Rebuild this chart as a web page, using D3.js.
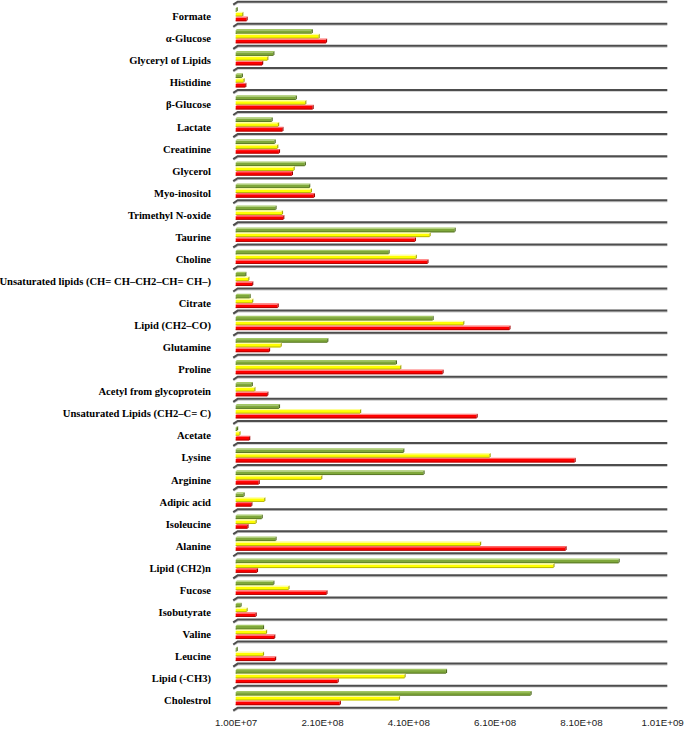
<!DOCTYPE html>
<html>
<head>
<meta charset="utf-8">
<script src="https://cdn.jsdelivr.net/npm/d3@7"></script>
<style>
  html, body { margin: 0; padding: 0; background: #fff; }
  svg { display: block; }
</style>
</head>
<body>
<svg id="chart" width="685" height="730"></svg>
<script>
const categories = ["Formate","α-Glucose","Glyceryl of Lipids","Histidine","β-Glucose","Lactate","Creatinine","Glycerol","Myo-inositol","Trimethyl N-oxide","Taurine","Choline","Unsaturated lipids (CH= CH–CH2–CH= CH–)","Citrate","Lipid (CH2–CO)","Glutamine","Proline","Acetyl from glycoprotein","Unsaturated Lipids (CH2–C= C)","Acetate","Lysine","Arginine","Adipic acid","Isoleucine","Alanine","Lipid (CH2)n","Fucose","Isobutyrate","Valine","Leucine","Lipid (-CH3)","Cholestrol"];

const seriesGreen  = [1.2e7,1.86e8,9.7e7,2.4e7,1.49e8,9.3e7,1.0e8,1.70e8,1.80e8,1.02e8,5.17e8,3.64e8,3.2e7,4.2e7,4.66e8,2.22e8,3.81e8,4.7e7,1.1e8,1.3e7,3.98e8,4.45e8,2.8e7,7.0e7,1.02e8,8.97e8,9.7e7,2.1e7,7.3e7,1.2e7,4.97e8,6.93e8];
const seriesYellow = [2.5e7,2.02e8,8.3e7,2.8e7,1.71e8,1.08e8,1.06e8,1.44e8,1.84e8,1.17e8,4.59e8,4.27e8,3.9e7,4.8e7,5.37e8,1.14e8,3.91e8,5.3e7,2.98e8,1.85e7,5.98e8,2.08e8,7.6e7,5.6e7,5.76e8,7.46e8,1.32e8,3.5e7,8.0e7,7.3e7,4.01e8,3.88e8];
const seriesRed    = [3.5e7,2.19e8,7.1e7,3.2e7,1.88e8,1.18e8,1.1e8,1.40e8,1.91e8,1.2e8,4.25e8,4.54e8,4.8e7,1.07e8,6.44e8,8.7e7,4.89e8,8.3e7,5.68e8,4.1e7,7.95e8,6.3e7,4.6e7,3.7e7,7.74e8,5.9e7,2.20e8,5.6e7,9.9e7,1.01e8,2.46e8,2.51e8];

const tickValues = [1.0e7, 2.1e8, 4.1e8, 6.1e8, 8.1e8, 1.01e9];
const tickLabels = ["1.00E+07","2.10E+08","4.10E+08","6.10E+08","8.10E+08","1.01E+09"];

const seriesNames = ["green","yellow","red"];
const seriesData = [seriesGreen, seriesYellow, seriesRed];
const colors = {
  green:  { front: "#7fa83a", top: "#a3c764", side: "#4f6b1f" },
  yellow: { front: "#ffff00", top: "#ffff99", side: "#a6a600" },
  red:    { front: "#ff0000", top: "#ff6a6a", side: "#a00000" }
};

const svg = d3.select("#chart");
const xLeft = 235.7, xRight = 667.3, yTop = 1.7, yBottom = 707.7;

const x = d3.scaleLinear().domain([1e7, 1.01e9]).range([xLeft, xRight]);
const y = d3.scaleBand().domain(categories).range([yTop, yBottom]).padding(0);
const inner = d3.scaleBand().domain(seriesNames).range([5.2, 19.6]).padding(0.02);

// gridlines (row separators with 3D slant)
const lineYs = categories.map(c => y(c)).concat([yBottom]);
const grid = svg.append("g");
grid.selectAll("path.shadow").data(lineYs).join("path")
  .attr("class", "shadow")
  .attr("d", v => `M${xLeft - 2},${v + 3.8} L${xLeft + 2.5},${v + 1.3} L${xRight},${v + 1.3}`)
  .attr("fill", "none").attr("stroke", "#c8c8c8").attr("stroke-width", 1.2);
grid.selectAll("path.line").data(lineYs).join("path")
  .attr("class", "line")
  .attr("d", v => `M${xLeft - 2.5},${v + 3} L${xLeft + 2},${v} L${xRight},${v}`)
  .attr("fill", "none").attr("stroke", "#4d4d4d").attr("stroke-width", 2);

// bars
const d = 1.2;
const rows = svg.append("g").selectAll("g").data(categories).join("g")
  .attr("transform", c => `translate(0,${y(c)})`);

seriesNames.forEach((s, si) => {
  const vals = seriesData[si];
  const col = colors[s];
  const h = inner.bandwidth();
  const g = rows.append("g");
  g.append("rect")
    .attr("x", x(1e7))
    .attr("y", inner(s) + d)
    .attr("width", (c, i) => Math.max(0.5, x(vals[i]) - x(1e7)))
    .attr("height", h - d)
    .attr("fill", col.front);
  g.append("path")
    .attr("d", (c, i) => {
      const x0 = x(1e7), x1 = Math.max(x0 + 0.5, x(vals[i])), yy = inner(s) + d;
      return `M${x0},${yy} L${x0 + d},${yy - d} L${x1 + d},${yy - d} L${x1},${yy} Z`;
    })
    .attr("fill", col.top);
  g.append("path")
    .attr("d", (c, i) => {
      const x0 = x(1e7), x1 = Math.max(x0 + 0.5, x(vals[i])), yy = inner(s) + d;
      return `M${x1},${yy} L${x1 + d},${yy - d} L${x1 + d},${yy + h - 2 * d} L${x1},${yy + h - d} Z`;
    })
    .attr("fill", col.side);
  g.append("line")
    .attr("x1", x(1e7))
    .attr("x2", (c, i) => Math.max(x(1e7) + 0.5, x(vals[i])))
    .attr("y1", inner(s) + h - 0.4)
    .attr("y2", inner(s) + h - 0.4)
    .attr("stroke", col.side).attr("stroke-width", 0.8);
});

// category labels
svg.append("g").selectAll("text").data(categories).join("text")
  .attr("x", 211)
  .attr("y", c => y(c) + 15)
  .attr("text-anchor", "end")
  .attr("dominant-baseline", "central")
  .attr("font-family", "'Liberation Serif', 'Times New Roman', serif")
  .attr("font-weight", "bold")
  .attr("font-size", "10.6px")
  .attr("fill", "#000")
  .text(c => c);

// x axis
const xAxis = d3.axisBottom(x)
  .tickValues(tickValues)
  .tickSize(0)
  .tickPadding(0)
  .tickFormat((v, i) => tickLabels[i]);
const ax = svg.append("g").attr("transform", `translate(0,${yBottom + 11})`).call(xAxis);
ax.select(".domain").remove();
ax.selectAll("text")
  .attr("font-family", "'Liberation Sans', Arial, sans-serif")
  .attr("font-size", "9.8px")
  .attr("fill", "#222");
// keep the last label inside the picture, as the reference does
ax.selectAll(".tick").filter((v, i, n) => i === n.length - 1).select("text")
  .attr("text-anchor", "end").attr("dx", "16");
</script>
</body>
</html>
